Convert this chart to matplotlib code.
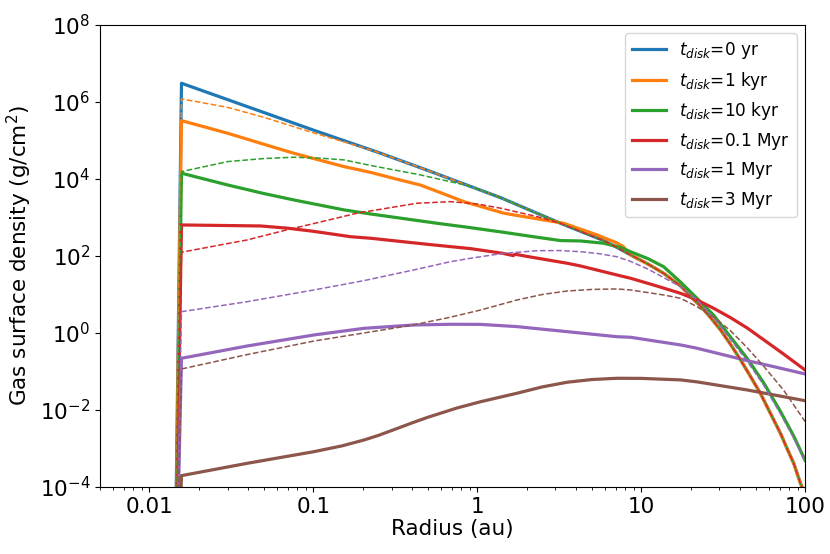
import matplotlib
matplotlib.use('Agg')
import matplotlib.pyplot as plt
import numpy as np
from matplotlib.ticker import LogLocator, NullLocator, FixedLocator, FixedFormatter

# radius (au) and gas surface density (g/cm^2)
# steep outer edge shared by several curves
r_edge = [8.6, 11, 13.7, 17.4, 20, 23, 26.5, 30.5, 35, 40.4, 46, 53.4, 61, 70.8, 78, 85.2, 93.6, 100]
s_edge = [107, 61.7, 35.5, 16.6, 8.91, 5.01, 2.51, 1.20, 0.513, 0.200, 0.0794, 0.0269,
          8.7e-3, 2.45e-3, 9.5e-4, 4.12e-4, 1.26e-4, 6.3e-5]

# t = 0 yr
r_0yr = [0.014, 0.0157, 0.1, 0.257, 0.5, 1.0, 1.387, 2.0, 3.22, 4.5, 5.9, 7.2] + r_edge
s_0yr = [1e-10, 3.06e6, 1.86e5, 4.66e4, 1.66e4, 5.5e3, 3.27e3, 1.68e3, 706, 398, 251, 162] + s_edge

# t = 1 kyr
r_1kyr = [0.014, 0.0157, 0.03, 0.05, 0.076, 0.154, 0.224, 0.3, 0.451, 0.6, 0.83, 1.1, 1.45,
          2.2, 3.37, 4.3, 5.4, 6.2, 7.1, 7.8, 8.3] + r_edge
s_1kyr = [1e-10, 3.27e5, 1.54e5, 7.94e4, 4.65e4, 2.09e4, 1.48e4, 1.07e4, 6.92e3, 4.37e3, 2.57e3,
          1.82e3, 1.29e3, 955, 706, 490, 351, 275, 219, 174, 126] + s_edge
r_1kyr_d = [0.014, 0.0157, 0.03, 0.05, 0.1, 0.2, 0.257, 0.5, 1.0, 1.387, 2.0, 3.22, 4.5, 5.9, 7.2] + r_edge
s_1kyr_d = [1e-10, 1.2e6, 7.24e5, 3.98e5, 1.58e5, 6.6e4, 4.66e4, 1.66e4, 5.5e3, 3.27e3, 1.68e3,
            706, 398, 251, 162] + s_edge

# t = 10 kyr
r_10kyr = [0.014, 0.0157, 0.03, 0.05, 0.076, 0.154, 0.224, 0.569, 0.91, 1.45, 2.2, 3.22, 4.26,
           5.9, 7.5, 8.6, 11, 13.7, 17.4, 21.9, 27.7, 35, 44.3, 56, 70.8, 85, 100]
s_10kyr = [1e-10, 1.41e4, 6.98e3, 4.17e3, 2.85e3, 1.57e3, 1.23e3, 706, 543, 411, 316, 251, 245,
           214, 166, 129, 85.1, 52.7, 20.9, 7.94, 2.88, 0.794, 0.219, 0.0501, 9.1e-3, 2.14e-3, 4.9e-4]
r_10kyr_d = [0.014, 0.0157, 0.03, 0.05, 0.076, 0.11, 0.154, 0.224, 0.257, 0.451, 0.91, 1.387,
             2.0, 3.22, 4.5, 5.9, 7.2] + r_edge
s_10kyr_d = [1e-10, 1.55e4, 2.82e4, 3.39e4, 3.66e4, 3.47e4, 3.12e4, 2.24e4, 2.0e4, 1.27e4, 6.46e3,
             3.27e3, 1.68e3, 706, 398, 251, 162] + s_edge

# t = 0.1 Myr
r_01myr = [0.014, 0.0157, 0.0477, 0.07, 0.1, 0.169, 0.224, 0.5, 0.91, 1.43, 1.66, 1.70, 2.0,
           3.54, 4.26, 7.1, 8.6, 12, 17.4, 21.9, 27.7, 35, 44.3, 56, 74, 100]
s_01myr = [1e-10, 638, 601, 525, 437, 316, 288, 200, 155, 117, 102, 111, 97.7, 64.6, 55, 32.1,
           26.4, 17.4, 10.7, 7.19, 4.37, 2.51, 1.35, 0.661, 0.282, 0.109]
r_01myr_d = [0.014, 0.0157, 0.0396, 0.066, 0.11, 0.185, 0.3, 0.43, 0.687, 1.0, 1.387, 2.32, 3.22,
             4.5, 5.9, 7.2] + r_edge
s_01myr_d = [1e-10, 125, 261, 454, 759, 1.29e3, 1.82e3, 2.34e3, 2.57e3, 2.24e3, 1.74e3, 1.05e3,
             706, 398, 251, 162] + s_edge

# t = 1 Myr
r_1myr = [0.014, 0.0157, 0.0396, 0.101, 0.204, 0.41, 0.687, 1.05, 1.75, 3.54, 7.1, 8.6, 17.4,
          21.9, 30, 44.3, 65, 100]
s_1myr = [1e-10, 0.22, 0.459, 0.887, 1.32, 1.61, 1.68, 1.67, 1.46, 1.08, 0.80, 0.773, 0.488,
          0.401, 0.288, 0.191, 0.132, 0.0861]
r_1myr_d = [0.014, 0.0157, 0.0396, 0.101, 0.204, 0.41, 0.687, 0.91, 1.4, 2.32, 3.2, 4.26, 5.5,
            7.1, 8.6, 11, 13.7, 17.4, 21.9, 27.7, 35, 44.3, 56, 70.8, 85, 100]
s_1myr_d = [1e-10, 3.57, 6.5, 13.1, 22.9, 43.3, 71.1, 87.1, 115, 137, 138, 129, 115, 95.5, 72.4,
            45.7, 27.5, 15.8, 7.24, 2.51, 0.692, 0.186, 0.0437, 7.9e-3, 1.9e-3, 4.5e-4]

# t = 3 Myr
r_3myr = [0.014, 0.0157, 0.0396, 0.101, 0.15, 0.204, 0.25, 0.33, 0.41, 0.5, 0.75, 1.05, 1.75,
          2.5, 3.54, 5, 7.1, 10, 17.4, 21.9, 44.3, 100]
s_3myr = [1e-10, 1.97e-4, 4.12e-4, 8.26e-4, 1.17e-3, 1.66e-3, 2.19e-3, 3.39e-3, 4.79e-3, 6.46e-3,
          0.0112, 0.0164, 0.0272, 0.0398, 0.0525, 0.0617, 0.0665, 0.0661, 0.0603, 0.0537, 0.0331, 0.0174]
r_3myr_d = [0.014, 0.0157, 0.0396, 0.101, 0.204, 0.41, 0.687, 1.05, 1.75, 2.5, 3.54, 5, 7.1, 8.6,
            13.7, 17.4, 21.9, 27.7, 35, 44.3, 56, 73.8, 100]
s_3myr_d = [1e-10, 0.116, 0.275, 0.617, 1.0, 1.62, 2.57, 3.95, 7.19, 10, 12.3, 13.5, 13.9, 13.1,
            9.7, 7.94, 4.83, 2.57, 1.15, 0.417, 0.135, 0.0331, 5.0e-3]

labels = [r'$t_{disk}$=0 yr', r'$t_{disk}$=1 kyr', r'$t_{disk}$=10 kyr',
          r'$t_{disk}$=0.1 Myr', r'$t_{disk}$=1 Myr', r'$t_{disk}$=3 Myr']
colors = ['C0', 'C1', 'C2', 'C3', 'C4', 'C5']

solid = [(r_0yr, s_0yr), (r_1kyr, s_1kyr), (r_10kyr, s_10kyr),
         (r_01myr, s_01myr), (r_1myr, s_1myr), (r_3myr, s_3myr)]
dashed = [None, (r_1kyr_d, s_1kyr_d), (r_10kyr_d, s_10kyr_d),
          (r_01myr_d, s_01myr_d), (r_1myr_d, s_1myr_d), (r_3myr_d, s_3myr_d)]

plt.rcParams['font.size'] = 15.5
fig = plt.figure(figsize=(8.3, 5.54), dpi=100)
ax = fig.add_axes([0.1205, 0.121, 0.8495, 0.834])

for (r, s), c, lab in zip(solid, colors, labels):
    ax.plot(r, s, '-', color=c, lw=2.3, label=lab)
for d, c in zip(dashed, colors):
    if d is None:
        continue
    ax.plot(d[0], d[1], '--', color=c, lw=1.1)

ax.set_xscale('log')
ax.set_yscale('log')
ax.set_xlim(0.005, 100)
ax.set_ylim(1e-4, 1e8)

xt = [0.01, 0.1, 1, 10, 100]
ax.xaxis.set_major_locator(FixedLocator(xt))
ax.xaxis.set_major_formatter(FixedFormatter(['0.01', '0.1', '1', '10', '100']))
ax.xaxis.set_minor_locator(LogLocator(base=10, subs=np.arange(2, 10)))

yt = [1e-4, 1e-2, 1e0, 1e2, 1e4, 1e6, 1e8]
ax.yaxis.set_major_locator(FixedLocator(yt))
ax.yaxis.set_major_formatter(FixedFormatter([r'$10^{-4}$', r'$10^{-2}$', r'$10^{0}$',
                                             r'$10^{2}$', r'$10^{4}$', r'$10^{6}$', r'$10^{8}$']))
ax.yaxis.set_minor_locator(NullLocator())

ax.set_xlabel('Radius (au)', labelpad=2)
ax.set_ylabel('Gas surface density (g/cm$^2$)')
ax.legend(loc='upper right', fontsize=12.2)

plt.savefig('out.png', dpi=100)
